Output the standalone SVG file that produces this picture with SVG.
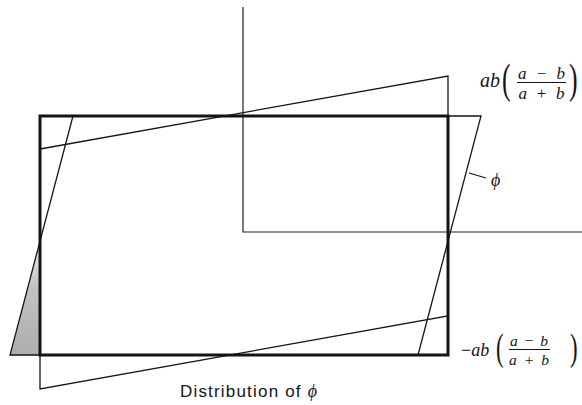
<svg xmlns="http://www.w3.org/2000/svg" width="582" height="405" viewBox="0 0 582 405">
<style>
.thick{fill:none;stroke:#141414;stroke-width:3;stroke-linejoin:miter}
.thin{fill:none;stroke:#141414;stroke-width:1.3;stroke-linejoin:miter}
.axis{fill:none;stroke:#222;stroke-width:1.2}
.m{font-family:"Liberation Serif","DejaVu Serif",serif;font-style:italic;fill:#141414}
.r{font-family:"Liberation Serif","DejaVu Serif",serif;font-style:normal;fill:#141414}
.cap{font-family:"Liberation Sans","DejaVu Sans",sans-serif;font-size:17px;fill:#141414}
.bar{stroke:#141414;stroke-width:1}
</style>
<defs>
<linearGradient id="shade" x1="0" y1="241" x2="0" y2="355" gradientUnits="userSpaceOnUse">
<stop offset="0" stop-color="#777" stop-opacity="0.1"/>
<stop offset="0.4" stop-color="#777" stop-opacity="0.45"/>
<stop offset="1" stop-color="#777" stop-opacity="0.6"/>
</linearGradient>
</defs>
<rect width="582" height="405" fill="#fff"/>
<g id="shading">
<polygon points="40,241 40,355 10,355" fill="url(#shade)"/>
</g>
<g id="axes">
<polyline class="axis" points="243,7 243,232 582,232"/>
</g>
<g id="rectangle">
<rect class="thick" x="40" y="116" width="408" height="239"/>
</g>
<g id="shear-horizontal">
<polygon class="thin" points="73,116 481,116 418,355 10,355"/>
</g>
<g id="shear-vertical">
<polygon class="thin" points="40,149 448,76 448,316 40,389"/>
</g>
<g id="label-top">
<text class="m" x="480" y="87" font-size="20">ab</text>
<text class="r" font-size="43" transform="translate(502,93) scale(0.6,1)">(</text>
<text class="m" x="541.5" y="78.5" font-size="17" text-anchor="middle" textLength="47" lengthAdjust="spacing">a <tspan class="r">−</tspan> b</text>
<line class="bar" x1="517" y1="82.5" x2="566" y2="82.5"/>
<text class="m" x="541.5" y="99" font-size="17" text-anchor="middle" textLength="46" lengthAdjust="spacing">a <tspan class="r">+</tspan> b</text>
<text class="r" font-size="43" transform="translate(569,93) scale(0.6,1)">)</text>
</g>
<g id="label-phi">
<line x1="469" y1="173" x2="486" y2="178" stroke="#141414" stroke-width="1.2"/>
<text class="m" x="491" y="186" font-size="18">ϕ</text>
</g>
<g id="label-bottom">
<text class="r" x="461" y="356" font-size="18">−<tspan class="m">ab</tspan></text>
<text class="r" font-size="38" transform="translate(496,360) scale(0.6,1)">(</text>
<text class="m" x="529" y="346" font-size="15.5" text-anchor="middle" textLength="38" lengthAdjust="spacing">a <tspan class="r">−</tspan> b</text>
<line class="bar" x1="509" y1="349.5" x2="550" y2="349.5"/>
<text class="m" x="529" y="365" font-size="15.5" text-anchor="middle" textLength="40" lengthAdjust="spacing">a <tspan class="r">+</tspan> b</text>
<text class="r" font-size="38" transform="translate(570,360) scale(0.6,1)">)</text>
</g>
<g id="caption">
<text class="cap" x="180" y="397" textLength="137" lengthAdjust="spacing">Distribution of <tspan class="m" font-size="18">ϕ</tspan></text>
</g>
</svg>
